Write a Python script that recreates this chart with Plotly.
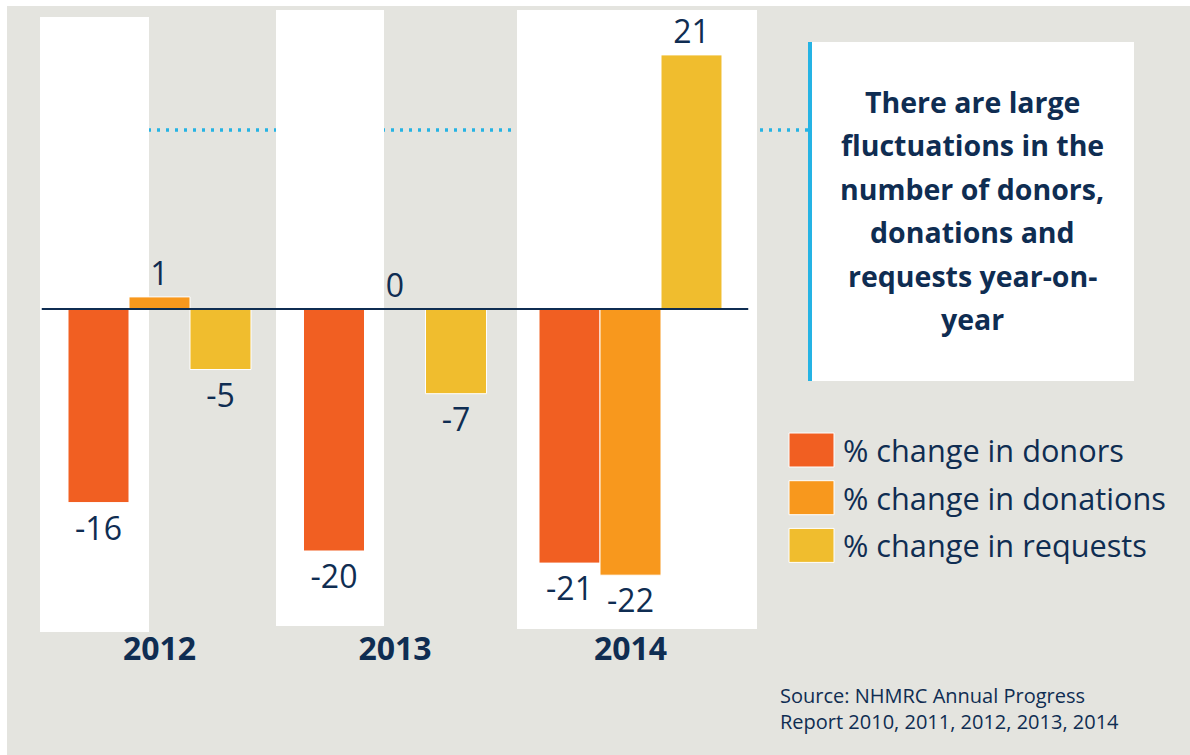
import plotly.graph_objects as go

# data
years = ["2012", "2013", "2014"]
donors = [-16, -20, -21]
donations = [1, 0, -22]
requests = [-5, -7, 21]

series_names = ["% change in donors", "% change in donations", "% change in requests"]
series_colors = ["#f15f22", "#f8981d", "#f0bd2e"]

note_lines = ["There are large", "fluctuations in the", "number of donors,",
              "donations and", "requests year-on-", "year"]
source_text = "Source: NHMRC Annual Progress<br>Report 2010, 2011, 2012, 2013, 2014"

W, H = 1190, 755
NAVY = "#0f2d52"
BLUE = "#25b3e4"
GRAY = "#e4e4df"
FONT = "Open Sans"


def px(x):
    return x / W


def py(y):
    return 1 - y / H


fig = go.Figure()

for name, vals, col in zip(series_names, [donors, donations, requests], series_colors):
    fig.add_trace(go.Bar(
        x=years, y=vals, name=name,
        marker=dict(color=col, line=dict(color="white", width=1)),
        text=[str(v) for v in vals],
        textposition="outside",
        textfont=dict(size=32, color=NAVY, family=FONT),
        constraintext="none",
        cliponaxis=False,
        showlegend=False,
    ))

shapes = []
# thin white strip along the top and left edges
shapes.append(dict(type="rect", xref="paper", yref="paper", x0=0, x1=1, y0=py(6), y1=1,
                   fillcolor="white", line=dict(width=0), layer="below"))
shapes.append(dict(type="rect", xref="paper", yref="paper", x0=0, x1=px(7), y0=0, y1=1,
                   fillcolor="white", line=dict(width=0), layer="below"))
# dotted guide line (sits under the white panels)
shapes.append(dict(type="line", xref="paper", yref="paper", x0=px(40), x1=px(808),
                   y0=py(130), y1=py(130), line=dict(color=BLUE, width=3.5, dash="3px,6px"),
                   layer="below"))
# white panels behind each year
for x0, x1, y0, y1 in [(40, 149, 17, 632), (276, 384, 10, 626), (517, 757, 10, 629)]:
    shapes.append(dict(type="rect", xref="paper", yref="paper", x0=px(x0), x1=px(x1),
                       y0=py(y1), y1=py(y0), fillcolor="white", line=dict(width=0),
                       layer="below"))
# note box
shapes.append(dict(type="rect", xref="paper", yref="paper", x0=px(808), x1=px(1134),
                   y0=py(381), y1=py(42), fillcolor="white", line=dict(width=0), layer="below"))
shapes.append(dict(type="line", xref="paper", yref="paper", x0=px(810), x1=px(810),
                   y0=py(381), y1=py(42), line=dict(color=BLUE, width=4), layer="below"))
# zero line
shapes.append(dict(type="line", xref="x domain", yref="y", x0=0, x1=1, y0=0, y1=0,
                   line=dict(color=NAVY, width=2), layer="above"))

annotations = []
# note text
for i, line in enumerate(note_lines):
    annotations.append(dict(xref="paper", yref="paper", x=px(972), y=py(102 + i * 43.4),
                            text=line, showarrow=False, xanchor="center", yanchor="middle",
                            font=dict(family=FONT, size=28.5, color=NAVY, weight="bold")))
# legend
for i, (name, col) in enumerate(zip(series_names, series_colors)):
    yc = 450 + i * 47.7
    shapes.append(dict(type="rect", xref="paper", yref="paper", x0=px(789), x1=px(834),
                       y0=py(yc + 17), y1=py(yc - 17), fillcolor=col,
                       line=dict(color="white", width=1)))
    annotations.append(dict(xref="paper", yref="paper", x=px(841), y=py(yc), text=name,
                            showarrow=False, xanchor="left", yanchor="middle",
                            font=dict(family=FONT, size=30.7, color=NAVY)))
# source
annotations.append(dict(xref="paper", yref="paper", x=px(778), y=py(708), text=source_text,
                        showarrow=False, xanchor="left", yanchor="middle", align="left",
                        font=dict(family=FONT, size=20, color=NAVY)))

fig.update_layout(
    width=W, height=H, autosize=False,
    margin=dict(l=0, r=0, t=0, b=0),
    paper_bgcolor=GRAY,
    plot_bgcolor="rgba(0,0,0,0)",
    barmode="group",
    bargap=0.223,
    bargroupgap=0,
    shapes=shapes,
    annotations=annotations,
    xaxis=dict(domain=[px(41.75), px(748.25)], range=[-0.5, 2.5], type="category",
               showgrid=False, showline=False, zeroline=False, ticks="",
               tickfont=dict(family=FONT, size=32, color=NAVY, weight="bold")),
    yaxis=dict(domain=[py(627), 1], range=[-(627 - 309) / 12.1, 309 / 12.1],
               visible=False, showgrid=False, zeroline=False),
    font=dict(family=FONT, color=NAVY),
)

# figure fills the window from its top-left corner; grey behind anything past it
fig.write_html("out.html",
               config={"displayModeBar": False},
               post_script="document.documentElement.style.overflow='hidden';"
                           "document.body.style.overflow='hidden';"
                           "document.body.style.margin='0';"
                           "document.documentElement.style.background='" + GRAY + "';")
